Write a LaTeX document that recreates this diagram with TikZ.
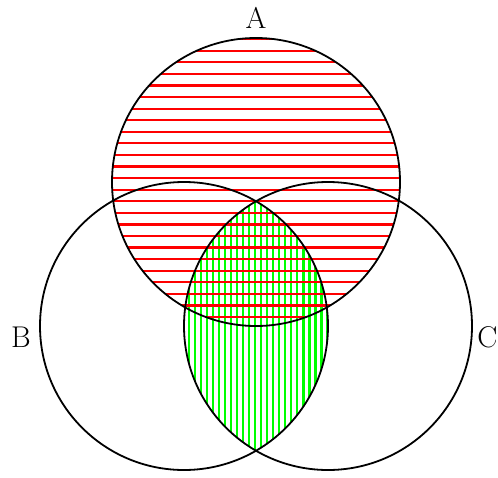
\documentclass[tikz,border=0pt]{standalone}
\usepackage{fontspec}
\setmainfont{Latin Modern Roman}
\begin{document}
\begin{tikzpicture}[x=1pt,y=-1pt,
  circ/.style={draw=black,line width=1.8pt},
  hatch/.style={line width=2.2pt},
  lbl/.style={inner sep=0pt,font=\fontsize{30}{36}\selectfont}]
\useasboundingbox (0,0) rectangle (498,477);
\coordinate (a) at (256,182);
\coordinate (b) at (184,326);
\coordinate (c) at (328,326);
\begin{scope}
  \clip (b) circle (144pt);
  \clip (c) circle (144pt);
  \foreach \i in {0,...,30} {
    \draw[hatch,green] ({183+\i*6.02},170) -- ({183+\i*6.02},480);
  }
\end{scope}
\begin{scope}
  \clip (a) circle (144pt);
  \foreach \i in {0,...,26} {
    \draw[hatch,red] (100,{39.12+\i*11.58}) -- (410,{39.12+\i*11.58});
  }
\end{scope}
\draw[circ] (a) circle (144pt);
\draw[circ] (b) circle (144pt);
\draw[circ] (c) circle (144pt);
\node[lbl] (la) at (256,17.7) {A};
\node[lbl] (lb) at (21,337.5) {B};
\node[lbl] (lc) at (487.5,337.5) {C};
\end{tikzpicture}
\end{document}
